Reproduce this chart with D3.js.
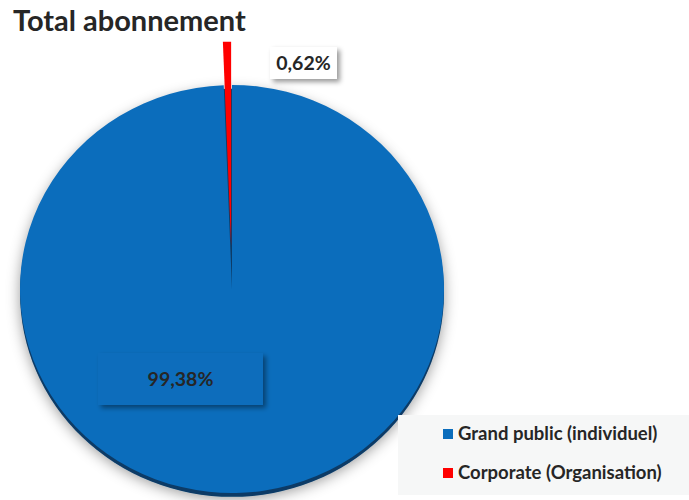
<!DOCTYPE html>
<html>
<head>
<meta charset="utf-8">
<script src="https://cdn.jsdelivr.net/npm/d3@7"></script>
<style>
  body { margin: 0; background: #fff; }
  svg { display: block; font-family: Lato, "Open Sans", sans-serif; }
</style>
</head>
<body>
<div id="chart"></div>
<script>
const categories = ["Grand public (individuel)", "Corporate (Organisation)"];
const values = [99.38, 0.62];
const valueLabels = ["99,38%", "0,62%"];
const colors = ["#0b6dbc", "#ff0000"];
const exploded = [0, 45];

const width = 689, height = 500;
const cx = 232, cy = 289, radius = 212, squash = 204 / 212;

const svg = d3.select("#chart").append("svg")
    .attr("width", width)
    .attr("height", height);

const defs = svg.append("defs");
const shadow = defs.append("filter").attr("id", "pieShadow")
    .attr("x", "-20%").attr("y", "-20%").attr("width", "140%").attr("height", "140%");
shadow.append("feDropShadow")
    .attr("dx", 0).attr("dy", 2).attr("stdDeviation", 7)
    .attr("flood-color", "#000").attr("flood-opacity", 0.4);

const boxShadow = defs.append("filter").attr("id", "boxShadow")
    .attr("x", "-20%").attr("y", "-30%").attr("width", "150%").attr("height", "170%");
boxShadow.append("feDropShadow")
    .attr("dx", 3).attr("dy", 3).attr("stdDeviation", 2.5)
    .attr("flood-color", "#000").attr("flood-opacity", 0.4);

svg.append("text")
    .attr("x", 13).attr("y", 31)
    .attr("font-size", "29px")
    .attr("font-weight", "bold")
    .attr("fill", "#262626")
    .text("Total abonnement");

const data = categories.map((c, i) => ({ category: c, value: values[i], label: valueLabels[i], color: colors[i], explode: exploded[i] }));

const pie = d3.pie().sort(null).value(d => d.value);
const arcs = pie(data);
const arc = d3.arc().innerRadius(0).outerRadius(radius);

const g = svg.append("g")
    .attr("transform", `translate(${cx}, ${cy}) scale(1, ${squash})`);

// darker rim under the pie (bevel effect)
g.append("path")
    .attr("d", d3.arc().innerRadius(0).outerRadius(radius).startAngle(0).endAngle(2 * Math.PI)())
    .attr("transform", "translate(0, 4)")
    .attr("fill", "#083a66")
    .attr("filter", "url(#pieShadow)");

g.selectAll("path.slice")
    .data(arcs)
    .enter()
    .append("path")
    .attr("class", "slice")
    .attr("transform", d => {
        const a = (d.startAngle + d.endAngle) / 2;
        return `translate(${Math.sin(a) * d.data.explode}, ${-Math.cos(a) * d.data.explode})`;
    })
    .attr("d", arc)
    .attr("fill", d => d.data.color);

// data labels
const labelBoxes = [
    { x: 98, y: 353, w: 165, h: 52, fill: colors[0] },
    { x: 270, y: 47, w: 67, h: 32, fill: "#ffffff" }
];
const labels = svg.append("g");
arcs.forEach((d, i) => {
    const b = labelBoxes[i];
    labels.append("rect")
        .attr("x", b.x).attr("y", b.y)
        .attr("width", b.w).attr("height", b.h)
        .attr("fill", b.fill)
        .attr("filter", "url(#boxShadow)");
    labels.append("text")
        .attr("x", b.x + b.w / 2)
        .attr("y", b.y + b.h / 2 + 7)
        .attr("text-anchor", "middle")
        .attr("font-size", "19.5px")
        .attr("font-weight", "bold")
        .attr("fill", "#262626")
        .text(d.data.label);
});

// legend
const legend = svg.append("g");
legend.append("rect")
    .attr("x", 398).attr("y", 415)
    .attr("width", width - 398).attr("height", 80)
    .attr("fill", "#f6f7f7");

const items = legend.selectAll("g.item")
    .data(data)
    .enter()
    .append("g")
    .attr("class", "item")
    .attr("transform", (d, i) => `translate(443, ${429 + i * 39})`);

items.append("rect")
    .attr("width", 10).attr("height", 10)
    .attr("fill", d => d.color);

items.append("text")
    .attr("x", 15).attr("y", 11)
    .attr("font-size", "18.5px")
    .attr("font-weight", "bold")
    .attr("fill", "#262626")
    .text(d => d.category);
</script>
</body>
</html>
